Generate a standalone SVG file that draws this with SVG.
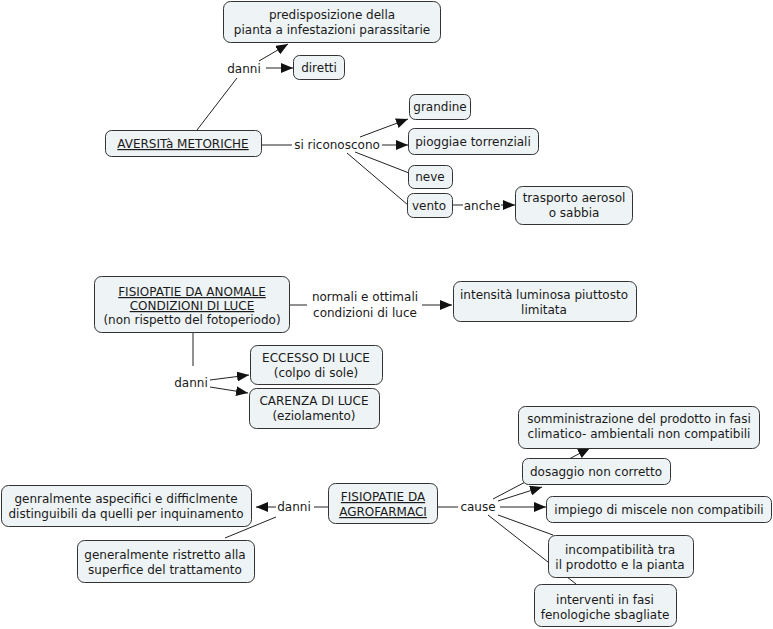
<svg xmlns="http://www.w3.org/2000/svg" width="773" height="629" viewBox="0 0 773 629">
<defs>
<style>
.n rect{fill:#EEF3F5;stroke:#333;stroke-width:1}
text{font-family:"DejaVu Sans","Verdana",sans-serif;font-size:12px;fill:#1a1a1a;text-anchor:middle}
.u{text-decoration:underline}
#connectors line{stroke:#222;stroke-width:1}
#connectors line.a{marker-end:url(#arr)}
</style>
<marker id="arr" markerWidth="12" markerHeight="10" refX="12" refY="5" orient="auto" markerUnits="userSpaceOnUse">
<path d="M0,0 L12,5 L0,10 Z" fill="#111"/>
</marker>
</defs>
<rect width="773" height="629" fill="#fff"/>
<g id="connectors">
<line x1="197" y1="130" x2="237" y2="78"/>
<line class="a" x1="259" y1="61" x2="288" y2="44"/>
<line class="a" x1="266" y1="68" x2="293" y2="68"/>
<line x1="262" y1="145" x2="292" y2="145"/>
<line class="a" x1="360" y1="137" x2="408" y2="119"/>
<line class="a" x1="382" y1="145" x2="408" y2="145"/>
<line x1="355" y1="152" x2="409" y2="173"/>
<line x1="347" y1="153" x2="408" y2="205"/>
<line x1="452" y1="205" x2="463" y2="205"/>
<line class="a" x1="501" y1="205" x2="515" y2="205"/>
<line x1="290" y1="305" x2="307" y2="305"/>
<line class="a" x1="422" y1="305" x2="452" y2="305"/>
<line x1="193" y1="332" x2="193" y2="366"/>
<line class="a" x1="210" y1="380" x2="249" y2="375"/>
<line class="a" x1="210" y1="387" x2="248" y2="393"/>
<line x1="328" y1="507" x2="314" y2="507"/>
<line class="a" x1="276" y1="507" x2="256" y2="507"/>
<line x1="276" y1="517" x2="225" y2="538"/>
<line x1="437" y1="507" x2="458" y2="507"/>
<line class="a" x1="493" y1="499" x2="590" y2="448"/>
<line class="a" x1="498" y1="501" x2="542" y2="487"/>
<line class="a" x1="500" y1="507" x2="546" y2="507"/>
<line x1="498" y1="515" x2="553" y2="535"/>
<line x1="488" y1="515" x2="576" y2="584"/>
</g>
<g id="predisposizione" class="n"><rect x="223.5" y="1.5" width="217" height="41" rx="7"/><text x="332" y="19">predisposizione della</text><text x="332" y="34"> pianta a infestazioni parassitarie</text></g>
<g id="diretti" class="n"><rect x="293.5" y="55.5" width="51" height="24" rx="6"/><text x="319" y="72">diretti</text></g>
<text x="244" y="73">danni</text>
<g id="aversita" class="n"><rect x="105.5" y="130.5" width="156" height="26" rx="6"/><text class="u" x="183" y="148">AVERSITà METORICHE</text></g>
<text x="337" y="149">si riconoscono</text>
<g id="grandine" class="n"><rect x="409.5" y="94.5" width="61" height="25" rx="6"/><text x="440" y="111">grandine</text></g>
<g id="pioggiae" class="n"><rect x="408.5" y="128.5" width="130" height="26" rx="6"/><text x="473" y="146">pioggiae torrenziali</text></g>
<g id="neve" class="n"><rect x="408.5" y="165.5" width="44" height="23" rx="6"/><text x="430" y="181">neve</text></g>
<g id="vento" class="n"><rect x="407.5" y="193.5" width="45" height="24" rx="6"/><text x="429" y="210">vento</text></g>
<text x="482" y="210">anche</text>
<g id="trasporto" class="n"><rect x="515.5" y="186.5" width="117" height="38" rx="7"/><text x="574" y="202">trasporto aerosol</text><text x="574" y="217">o sabbia</text></g>
<g id="fisiopatie-luce" class="n"><rect x="94.5" y="276.5" width="195" height="56" rx="7"/><text class="u" x="192" y="296">FISIOPATIE DA ANOMALE</text><text class="u" x="192" y="310">CONDIZIONI DI LUCE</text><text x="192" y="324">(non rispetto del fotoperiodo)</text></g>
<text x="365" y="301">normali e ottimali</text>
<text x="365" y="317">condizioni di luce</text>
<g id="intensita" class="n"><rect x="453.5" y="281.5" width="183" height="40" rx="7"/><text x="544" y="299">intensità luminosa piuttosto</text><text x="544" y="314">limitata</text></g>
<text x="191" y="387">danni</text>
<g id="eccesso" class="n"><rect x="250.5" y="345.5" width="132" height="39" rx="7"/><text x="316" y="362">ECCESSO DI LUCE</text><text x="316" y="377">(colpo di sole)</text></g>
<g id="carenza" class="n"><rect x="249.5" y="388.5" width="130" height="40" rx="7"/><text x="314" y="405">CARENZA DI LUCE</text><text x="314" y="420">(eziolamento)</text></g>
<g id="somministrazione" class="n"><rect x="518.5" y="406.5" width="241" height="42" rx="7"/><text x="639" y="423">somministrazione del prodotto in fasi</text><text x="639" y="438">climatico- ambientali non compatibili</text></g>
<g id="dosaggio" class="n"><rect x="522.5" y="458.5" width="148" height="26" rx="6"/><text x="596" y="476">dosaggio non corretto</text></g>
<g id="fisiopatie-agro" class="n"><rect x="328.5" y="483.5" width="109" height="40" rx="7"/><text class="u" x="383" y="501">FISIOPATIE DA</text><text class="u" x="383" y="516">AGROFARMACI</text></g>
<text x="478" y="511">cause</text>
<text x="294" y="511">danni</text>
<g id="impiego" class="n"><rect x="546.5" y="496.5" width="225" height="26" rx="6"/><text x="659" y="514">impiego di miscele non compatibili</text></g>
<g id="incompatibilita" class="n"><rect x="548.5" y="535.5" width="145" height="42" rx="7"/><text x="620" y="554">incompatibilità tra</text><text x="620" y="569">il prodotto e la pianta</text></g>
<g id="interventi" class="n"><rect x="534.5" y="584.5" width="142" height="42" rx="7"/><text x="605" y="604">interventi in fasi</text><text x="605" y="619">fenologiche sbagliate</text></g>
<g id="genralmente" class="n"><rect x="1.5" y="485.5" width="250" height="41" rx="7"/><text x="126" y="503">genralmente aspecifici e difficlmente</text><text x="126" y="518">distinguibili da quelli per inquinamento</text></g>
<g id="ristretto" class="n"><rect x="77.5" y="540.5" width="177" height="42" rx="7"/><text x="165" y="559">generalmente ristretto alla</text><text x="165" y="574">superfice del trattamento</text></g>
</svg>
